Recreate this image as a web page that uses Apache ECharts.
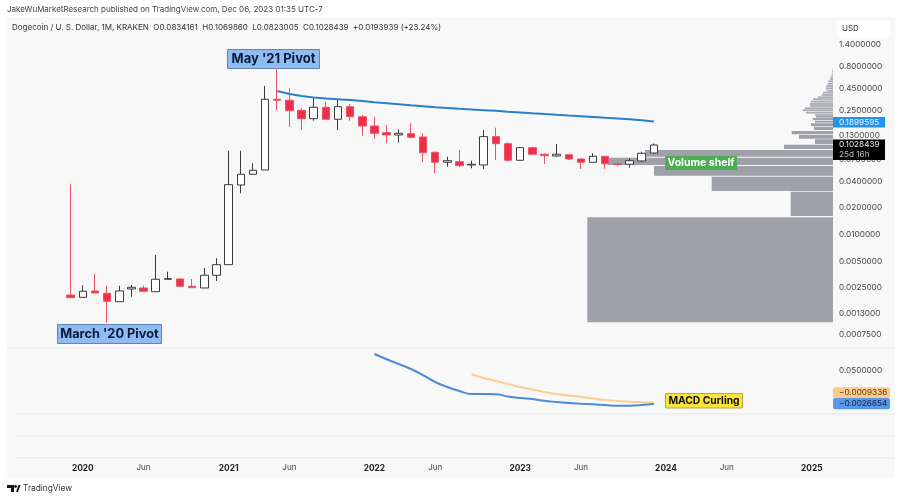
<!DOCTYPE html>
<html><head><meta charset="utf-8">
<script src="https://cdn.jsdelivr.net/npm/echarts@6/dist/echarts.min.js"></script>
<style>html,body{margin:0;padding:0;background:#fff}#c{width:900px;height:500px}</style>
</head><body><div id="c"></div>
<script>
const months = ["2019-08","2019-09","2019-10","2019-11","2019-12",
"2020-01","2020-02","2020-03","2020-04","2020-05","2020-06","2020-07","2020-08","2020-09","2020-10","2020-11","2020-12",
"2021-01","2021-02","2021-03","2021-04","2021-05","2021-06","2021-07","2021-08","2021-09","2021-10","2021-11","2021-12",
"2022-01","2022-02","2022-03","2022-04","2022-05","2022-06","2022-07","2022-08","2022-09","2022-10","2022-11","2022-12",
"2023-01","2023-02","2023-03","2023-04","2023-05","2023-06","2023-07","2023-08","2023-09","2023-10","2023-11","2023-12",
"2024-01","2024-02","2024-03","2024-04","2024-05","2024-06","2024-07","2024-08","2024-09","2024-10","2024-11","2024-12",
"2025-01","2025-02"];
const monthTicks = {"2020-01":"2020","2020-06":"Jun","2021-01":"2021","2021-06":"Jun","2022-01":"2022","2022-06":"Jun","2023-01":"2023","2023-06":"Jun","2024-01":"2024","2024-06":"Jun","2025-01":"2025"};
const priceTicks = [1.4,0.8,0.45,0.25,0.13,0.07,0.04,0.02,0.01,0.005,0.0025,0.0013,0.00075];
const macdTicks = [0.05];

const candleStart = "2019-12";
const opens  = [.002086,.001965,.002315,.00218,.001753,.002439,.002503,.002273,.003138,.003162,.002616,.002503,.003481,.004585,.03638,.04806,.05374,.3375,.3289,.2536,.2039,.2742,.2007,.2785,.2147,.1686,.1417,.1335,.138,.1267,.08513,.06564,.06667,.06119,.06119,.1277,.1064,.06914,.09593,.08082,.07732,.07998,.07152,.06564,.07672,.0633,.06232,.0679,.0834161];
const highs  = [.03705,.002685,.003601,.002657,.002657,.002706,.002657,.0059,.003822,.00322,.003162,.004208,.005415,.08874,.08874,.06395,.4769,.7376,.4492,.2671,.3555,.3171,.3375,.2987,.2244,.2147,.1731,.1548,.1809,.1395,.0869,.07593,.09037,.06843,.152,.1613,.1104,.0977,.09846,.08293,.1056,.08145,.07283,.08293,.07732,.06446,.07283,.08646,.1069860];
const lows   = [.001945,.001965,.002197,.001007,.001753,.001996,.002297,.002273,.003138,.002616,.002522,.002503,.003002,.004585,.02932,.04806,.05374,.2536,.1643,.152,.1935,.2007,.152,.1935,.131,.1212,.1075,.1092,.1225,.06564,.04931,.05855,.0581,.05616,.05473,.06969,.06667,.06914,.0798,.0628,.07534,.06969,.05515,.06564,.05515,.05962,.05705,.06615,.0823005];
const closes = [.001945,.002297,.002197,.001771,.002315,.002549,.002297,.003138,.003187,.002616,.002522,.003481,.004585,.03667,.04806,.05332,.3375,.3289,.251,.2039,.2742,.2007,.2785,.2147,.1686,.1395,.1335,.1395,.1257,.08424,.06564,.06843,.06008,.06232,.1277,.1064,.06914,.09593,.08082,.07791,.08082,.07152,.06564,.07672,.0633,.06167,.06843,.08293,.1028439];

const maStart = "2021-05";
const maPrices = [.4187,.3873,.3677,.3536,.3446,.3383,.3314,.3229,.313,.305,.2972,.2895,.2821,.2749,.2692,.2637,.2589,.2543,.2497,.2445,.2396,.2345,.2303,.2256,.2215,.2176,.2131,.2087,.2049,.2012,.1960,.1899595];

const profileLow  = [.001026,.01625,.03113,.04633,.06119,.07593,.09275,.1056,.1212,.1359,.152,.1686,.1837,.1971,.2092];
const profileHigh = [.01572,.03057,.04515,.05962,.07397,.09037,.1037,.1194,.1335,.1481,.1656,.1809,.1935,.2076,.2187];
const profileVol  = [245.7,42.3,121.3,179,225,188,49,18,34,41.3,19,22,18,20.3,17];
const stripePrice = [.2244,.2383,.2536,.2671,.2836,.2987,.3171,.3375,.3555,.3774,.4006,.422,.4492,.4769,.5062,.5388,.5721,.6073,.6464,.6915,.7361];
const stripeVol   = [18,27,30.3,28,23,23,22.3,20,15,11.3,10,6.3,7.3,7,5.3,4.7,3,2.3,1.3,.8,.4];

const macdStart = "2022-01";
const macdLine = [.0774,.069,.0613,.0532,.0435,.0323,.0242,.0177,.0129,.0129,.0124,.0089,.0065,.0048,.0021,0,-.0016,-.0027,-.0037,-.0048,-.006,-.006,-.0048,-.0026654];
const signalStart = "2022-09";
const signalLine = [.0444,.0387,.0339,.029,.0242,.0202,.0161,.0129,.0105,.0081,.0056,.0032,.0016,.0005,-.0003,-.0009336];

const FONT = 'Inter';
const from = (start, arr) => { const s = months.indexOf(start); return arr.map((v,i)=>[months[s+i], v]); };
const s0 = months.indexOf(candleStart);
const candleData = months.map((m,i)=>{ const k=i-s0; return (k>=0 && k<opens.length)?[opens[k],closes[k],lows[k],highs[k]]:'-'; });
const binData = profileVol.map((v,i)=>[v,profileLow[i],profileHigh[i]]);
const stripeData = stripeVol.map((v,i)=>[v,stripePrice[i]/1.0235,stripePrice[i]*1.0235]);
const renderBin = (color)=>(params,api)=>{
  const a=api.coord([api.value(0),api.value(2)]), b=api.coord([0,api.value(1)]);
  return {type:'rect',shape:{x:a[0],y:a[1],width:b[0]-a[0],height:b[1]-a[1]},style:{fill:color}};
};
const txt=(x,y,t,o={})=>({type:'text',x,y,z:100,style:Object.assign({text:t,font:`${o.w||400} ${o.s||8.2}px ${FONT}`,fill:o.c||'#333',textAlign:o.a||'left',textVerticalAlign:'middle'},o.extra||{})});
const box=(x,y,w,h,fill,stroke,r=0,z=99)=>({type:'rect',z,shape:{x,y,width:w,height:h,r},style:{fill,stroke:stroke||null,lineWidth:stroke?1:0}});
const hline=(y,x1=16,x2=895)=>({type:'line',z:0,shape:{x1,y1:y,x2,y2:y},style:{stroke:'#e6e7ea',lineWidth:1}});

const option={
 animation:false,
 backgroundColor:'#fff',
 grid:[
  {left:16,top:18,width:814,height:330},
  {left:16,top:348,width:814,height:110},
  {left:433,top:18,width:400,height:330}
 ],
 xAxis:[
  {type:'category',gridIndex:0,data:months,show:false},
  {type:'category',gridIndex:1,data:months,axisLine:{show:false},axisTick:{show:false},
   axisLabel:{interval:(i,v)=>v in monthTicks,margin:6,hideOverlap:false,
     formatter:v=>{const t=monthTicks[v];return t===undefined?'':(t==='Jun'?`{m|${t}}`:`{y|${t}}`);},
     rich:{y:{fontFamily:FONT,fontWeight:700,fontSize:8.4,color:'#222'},m:{fontFamily:FONT,fontSize:8,color:'#444'}}}},
  {type:'value',gridIndex:2,min:0,max:400,inverse:true,show:false}
 ],
 yAxis:[
  {type:'log',logBase:10,gridIndex:0,min:0.000526,max:2.79,show:false},
  {type:'value',gridIndex:1,position:'right',offset:3,min:-0.0903,max:0.0871,splitLine:{show:false},axisLine:{show:false},axisTick:{show:false},
   axisLabel:{customValues:macdTicks,margin:6,fontFamily:FONT,fontSize:8.2,color:'#444',align:'left',formatter:v=>Number(v).toFixed(7)}},
  {type:'log',logBase:10,gridIndex:2,position:'right',min:0.000526,max:2.79,splitLine:{show:false},axisLine:{show:false},axisTick:{show:false},
   axisLabel:{customValues:priceTicks,margin:6,fontFamily:FONT,fontSize:8.2,color:'#444',align:'left',formatter:v=>Number(v).toFixed(7)}}
 ],
 series:[
  {type:'custom',name:'Volume profile',xAxisIndex:2,yAxisIndex:2,z:1,renderItem:renderBin('#9ea1a7'),encode:{x:0,y:[1,2]},data:binData,silent:true},
  {type:'custom',name:'Volume stripes',xAxisIndex:2,yAxisIndex:2,z:1,renderItem:renderBin('#a9acb1'),encode:{x:0,y:[1,2]},data:stripeData,silent:true},
  {type:'candlestick',name:'DOGEUSD',xAxisIndex:0,yAxisIndex:0,z:3,barWidth:8,data:candleData,
   itemStyle:{color:'#ffffff',color0:'#ee2f48',borderColor:'#3a3a3e',borderColor0:'#ef5166',borderWidth:1}},
  {type:'line',name:'MA',xAxisIndex:0,yAxisIndex:0,z:4,showSymbol:false,smooth:false,data:from(maStart,maPrices),lineStyle:{color:'#2a80c8',width:2}},
  {type:'line',name:'Signal',xAxisIndex:1,yAxisIndex:1,z:4,showSymbol:false,smooth:true,data:from(signalStart,signalLine),lineStyle:{color:'#f8d08f',width:2}},
  {type:'line',name:'MACD',xAxisIndex:1,yAxisIndex:1,z:5,showSymbol:false,smooth:true,data:from(macdStart,macdLine),lineStyle:{color:'#4f8ad6',width:2}}
 ],
 graphic:[
  box(7,17,888,460,'#f8f8f9',null,0,-10),
  hline(348,7),hline(414),hline(436),hline(458),
  txt(7,10,'JakeWuMarketResearch published on TradingView.com, Dec 06, 2023 01:35 UTC-7',{s:8,c:'#444'}),
  txt(12,28,'Dogecoin / U. S. Dollar, 1M, KRAKEN  O0.0834161  H0.1069860  L0.0823005  C0.1028439  +0.0193939 (+23.24%)',{s:8,c:'#333'}),
  box(837,21,53,16,'#ffffff',null,2),
  txt(842,29,'USD',{s:8,c:'#333'}),
  box(227.5,49.5,92,19,'#8fbcf3','#5f86bb'),
  txt(273.5,59.5,"May '21 Pivot",{s:13,w:700,c:'#0c1a3a',a:'center'}),
  box(57.5,324.5,104,19,'#8fbcf3','#5f86bb'),
  txt(109.5,334.5,"March '20 Pivot",{s:12.8,w:700,c:'#0c1a3a',a:'center'}),
  box(665,156,72,14,'#4cae52',null,1),
  txt(701,163,'Volume shelf',{s:10.5,w:700,c:'#ffffff',a:'center'}),
  box(665.5,393.5,77,14.5,'#fbe43a','#b5a84a'),
  txt(704,401,'MACD Curling',{s:10.3,w:700,c:'#111',a:'center'}),
  box(833,117,52,10.5,'#2294ec'),
  txt(839,122.2,'0.1899595',{s:8.2,c:'#e9f4ff'}),
  box(833,139.5,52,20.5,'#000000'),
  txt(839,145,'0.1028439',{s:8.2,c:'#e8e8e8'}),
  txt(839,154.5,'25d 16h',{s:8.2,c:'#bdbdbd'}),
  box(833,387.3,57,10.8,'#fcc98c',null,2),
  txt(839,392.7,'\u22120.0009336',{s:8.2,c:'#5a3a10'}),
  box(833,398.1,57,11.2,'#5a97e6',null,2),
  txt(839,403.8,'\u22120.0026654',{s:8.2,c:'#10264a'}),
  {type:'polygon',z:100,shape:{points:[[7,485],[14,485],[14,492],[11,492],[11,488],[7,488]]},style:{fill:'#131722'}},
  {type:'circle',z:100,shape:{cx:15.5,cy:486.5,r:1.4},style:{fill:'#131722'}},
  {type:'polygon',z:100,shape:{points:[[16,492],[18.5,485],[20.5,485],[18,492]]},style:{fill:'#131722'}},
  txt(23,489,'TradingView',{s:8.3,c:'#333'})
 ]
};
const chart=echarts.init(document.getElementById('c'),null,{renderer:'canvas'});
chart.setOption(option);
</script></body></html>
